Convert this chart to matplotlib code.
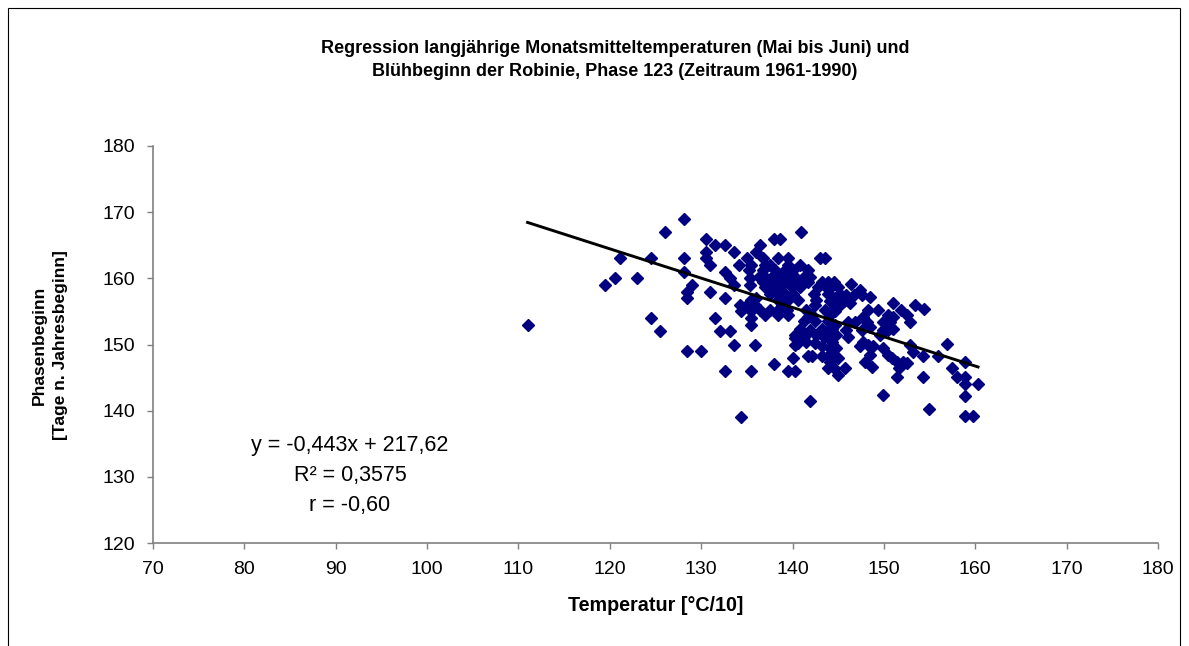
import matplotlib
matplotlib.use("Agg")
import matplotlib.pyplot as plt
from matplotlib.patches import Rectangle

# Temperatur [°C/10] und Phasenbeginn [Tage n. Jahresbeginn]
temp = [
    111.0, 119.5, 120.6, 121.1, 123.0, 124.5, 124.5, 125.5, 126.0, 128.1,
    128.1, 128.1, 129.0, 128.5, 128.4, 128.5, 130.0, 130.5, 131.5, 132.6,
    133.6, 130.5, 130.5, 131.0, 131.0, 132.6, 131.5, 132.1, 133.1, 133.6,
    135.9, 132.6, 135.4, 134.4, 132.6, 133.1, 133.6, 134.1, 135.0, 136.0,
    136.4, 134.2, 134.4, 135.4, 135.4, 135.4, 136.0, 135.3, 135.3, 138.0,
    139.5, 140.3, 140.1, 140.3, 140.3, 138.0, 138.6, 140.9,
    # dichter Bereich 135-145
    136.8, 138.4, 139.5,
    135.5, 137.0, 137.5, 139.5, 140.8,
    135.2, 136.8, 138.1, 139.2, 140.1, 141.7,
    136.3, 137.0, 137.7, 138.6, 139.4, 140.3, 141.2, 141.9,
    136.8, 137.7, 138.4, 139.5, 140.6, 141.7, 143.2, 143.9,
    137.0, 137.9, 138.6, 139.9, 140.8, 142.8, 143.7,
    137.5, 138.4, 139.2, 140.1, 142.3, 143.9,
    135.5, 138.4, 139.5, 140.6, 142.6, 144.5,
    135.0, 135.9, 138.8, 142.5,
    136.4, 137.5, 138.4, 139.4, 141.5, 143.6,
    137.0, 138.4, 139.5, 142.1,
    141.2, 142.5, 143.9,
    140.8, 143.2, 144.3,
    140.3, 142.6, 143.7,
    140.6, 141.5, 142.5, 142.1, 143.2, 144.1, 143.9, 144.1, 143.0, 143.6,
    # Bereich 144-154
    146.4, 147.4, 145.9, 146.7, 147.6, 148.5, 145.6, 146.3, 148.3, 149.4,
    151.0, 151.9, 150.5, 151.0, 147.7, 152.5, 152.9, 149.9, 150.7, 148.1,
    148.5, 146.1, 146.8, 145.9, 146.1, 147.6, 149.9, 150.5, 151.0, 149.6,
    147.7, 148.3, 148.8, 147.4, 148.5, 147.9, 148.7, 149.9, 150.5, 150.9,
    151.4, 152.1, 151.6, 151.4, 152.9, 153.2, 152.5, 144.8, 145.0, 144.5,
    145.0, 145.7, 144.1, 144.3, 144.8, 144.6, 144.1, 144.6, 144.5, 145.0,
    145.2, 144.6, 145.2, 144.5, 144.1, 144.1, 144.1, 153.4,
    # Rand rechts und unten
    154.4, 154.3, 154.3, 154.9, 149.9, 141.9, 141.7, 143.9, 141.9, 141.2,
    141.7, 143.2, 143.9, 143.4,
    156.9, 155.9, 157.4, 158.0, 158.9, 158.9, 158.9, 160.3, 158.9, 158.9,
    159.8,
]
beginn = [
    153, 159, 160, 163, 160, 163, 154, 152, 167, 169,
    163, 161, 159, 158, 157, 149, 149, 166, 165, 165,
    164, 164, 163, 162, 158, 157, 154, 152, 152, 150,
    150, 146, 146, 139, 161, 160, 159, 162, 163, 164,
    165, 156, 155, 155, 154, 153, 157, 159, 160, 147,
    146, 146, 148, 150, 151, 166, 166, 167,
    163.0, 163.0, 163.0,
    162.0, 162.0, 162.0, 162.0, 162.0,
    161.3, 161.3, 161.3, 161.3, 161.3, 161.3,
    160.2, 160.2, 160.2, 160.2, 160.2, 160.2, 160.2, 160.2,
    159.5, 159.5, 159.5, 159.5, 159.5, 159.5, 159.5, 159.5,
    158.7, 158.7, 158.7, 158.7, 158.7, 158.7, 158.7,
    157.7, 157.7, 157.7, 157.7, 157.7, 157.7,
    156.7, 156.7, 156.7, 156.7, 156.7, 156.7,
    156.0, 156.0, 156.0, 156.0,
    155.2, 155.2, 155.2, 155.2, 155.2, 155.2,
    154.5, 154.5, 154.5, 154.5,
    153.5, 153.5, 153.5,
    152.4, 152.4, 152.4,
    151.4, 151.4, 151.4,
    150.2, 150.4, 150.2, 148.2, 148.2, 149.4, 146.4, 147.4, 163.1, 163.1,
    159.1, 158.2, 157.5, 157.5, 157.5, 157.2, 156.5, 156.2, 155.2, 155.2,
    156.2, 155.2, 154.5, 154.2, 154.2, 154.5, 153.4, 153.4, 153.4, 153.4,
    152.7, 153.4, 153.4, 152.2, 151.2, 152.2, 152.2, 152.2, 152.4, 151.4,
    150.4, 149.9, 149.7, 149.7, 148.4, 147.4, 146.6, 149.4, 148.4, 147.9,
    147.4, 147.4, 146.4, 145.1, 149.9, 148.9, 147.2, 149.4, 147.9, 146.4,
    145.4, 146.4, 148.4, 150.4, 151.4, 152.9, 154.5, 155.0, 159.5, 158.7,
    157.7, 157.0, 156.0, 155.5, 158.5, 157.5, 156.5, 156.0,
    155.3, 148.2, 145.1, 140.2, 142.4, 141.4, 148.2, 148.2, 152.2, 151.2,
    154.2, 149.7, 152.2, 151.2,
    150.1, 148.2, 146.4, 145.1, 147.3, 145.1, 144.1, 144.1, 142.2, 139.2,
    139.2,
]

# Regressionsgerade laut Diagramm
steigung = -0.443
achsenabschnitt = 217.62
gleichung = ["y = -0,443x + 217,62", "R² = 0,3575", "r = -0,60"]

x_ticks = list(range(70, 181, 10))
y_ticks = list(range(120, 181, 10))

plt.rcParams['font.family'] = ['Liberation Sans', 'DejaVu Sans']

fig = plt.figure(figsize=(11.89, 6.46), dpi=100)
fig.patches.append(Rectangle((8 / 1189, -0.1), 1172 / 1189, 1.1 - 8 / 646,
                             transform=fig.transFigure, fill=False,
                             edgecolor='black', linewidth=0.8))

ax = fig.add_axes([153 / 1189, 1 - 543 / 646, 1005 / 1189, 397 / 646])

ax.plot(temp, beginn, linestyle='none', marker='D', markersize=5.8,
        color='#000080', markeredgecolor='#000080', zorder=2)

x_linie = [min(temp), max(temp)]
y_linie = [steigung * v + achsenabschnitt for v in x_linie]
ax.plot(x_linie, y_linie, color='black', linewidth=2.1, zorder=3)

ax.set_xlim(70, 180)
ax.set_ylim(120, 180)
ax.set_xticks(x_ticks)
ax.set_yticks(y_ticks)

for s in ['top', 'right']:
    ax.spines[s].set_visible(False)
for s in ['left', 'bottom']:
    ax.spines[s].set_color('#808080')
    ax.spines[s].set_linewidth(1.2)
ax.tick_params(axis='both', direction='out', length=4, width=1.0,
               color='#808080', labelsize=14, pad=9)

ax.set_xlabel('Temperatur [°C/10]', fontsize=14.2, fontweight='bold',
              labelpad=13)

fig.text(50 / 1189, 1 - 345 / 646, 'Phasenbeginn\n[Tage n. Jahresbeginn]',
         rotation=90, ha='center', va='center', multialignment='center',
         fontsize=12.5, fontweight='bold', linespacing=1.5)

fig.text(615 / 1189, 1 - 60 / 646,
         'Regression langjährige Monatsmitteltemperaturen (Mai bis Juni) und\n'
         'Blühbeginn der Robinie, Phase 123 (Zeitraum 1961-1990)',
         ha='center', va='center', multialignment='center',
         fontsize=13, fontweight='bold', linespacing=1.5)

for i, zeile in enumerate(gleichung):
    fig.text(350 / 1189, 1 - (445 + 30 * i) / 646, zeile,
             ha='center', va='center', fontsize=15.5)

fig.savefig('out.png', dpi=100)
